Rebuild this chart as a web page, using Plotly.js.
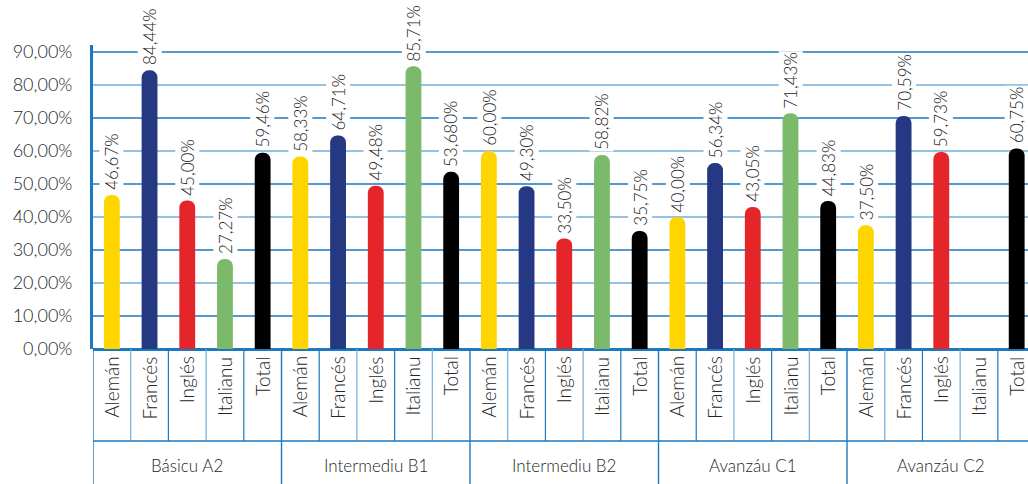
<!DOCTYPE html>
<html>
<head>
<meta charset="utf-8">
<script src="https://cdn.plot.ly/plotly-3.0.1.min.js"></script>
<style>
html,body{margin:0;padding:0;background:#fff;}
#chart{width:1028px;height:484px;}
</style>
</head>
<body>
<div id="chart"></div>
<script>
// ---- data ----
const groups = ["Básicu A2", "Intermediu B1", "Intermediu B2", "Avanzáu C1", "Avanzáu C2"];
const languages = ["Alemán", "Francés", "Inglés", "Italianu", "Total"];
const aleman   = [46.67, 58.33, 60.00, 40.00, 37.50];
const frances  = [84.44, 64.71, 49.30, 56.34, 70.59];
const ingles   = [45.00, 49.48, 33.50, 43.05, 59.73];
const italianu = [27.27, 85.71, 58.82, 71.43, null];
const total    = [59.46, 53.68, 35.75, 44.83, 60.75];
const alemanLabels   = ["46,67%", "58,33%", "60,00%", "40,00%", "37,50%"];
const francesLabels  = ["84,44%", "64,71%", "49,30%", "56,34%", "70,59%"];
const inglesLabels   = ["45,00%", "49,48%", "33,50%", "43,05%", "59,73%"];
const italianuLabels = ["27,27%", "85,71%", "58,82%", "71,43%", ""];
const totalLabels    = ["59,46%", "53,680%", "35,75%", "44,83%", "60,75%"];
const yTicks = [0, 10, 20, 30, 40, 50, 60, 70, 80, 90];
const yTickText = ["0,00%", "10,00%", "20,00%", "30,00%", "40,00%", "50,00%", "60,00%", "70,00%", "80,00%", "90,00%"];

// ---- styles ----
const colors = ["#FFD500", "#253882", "#E4262A", "#7CBA6B", "#000000"];
const series = [aleman, frances, ingles, italianu, total];
const seriesLabels = [alemanLabels, francesLabels, inglesLabels, italianuLabels, totalLabels];
const blue = "#1B79C2";
const lightBlue = "#6FAEDB";
const font = "Lato, 'Open Sans', sans-serif";
const textColor = "#262626";
const nL = languages.length;

const traces = [];
const annotations = [];
const shapes = [];

series.forEach((vals, li) => {
  const xs = groups.map((g, gi) => gi * nL + li);
  traces.push({
    type: "bar",
    x: xs,
    y: vals,
    width: 0.42,
    marker: {color: colors[li], cornerradius: "50%", line: {width: 0}},
    hoverinfo: "skip",
    showlegend: false
  });
  vals.forEach((v, gi) => {
    if (v === null || v === undefined) return;
    annotations.push({
      x: gi * nL + li, y: v, xref: "x", yref: "y",
      text: seriesLabels[li][gi], showarrow: false,
      textangle: -90, xanchor: "center", yanchor: "bottom",
      yshift: 3, bgcolor: "#ffffff", borderpad: 1,
      font: {family: font, size: 17, color: textColor, weight: 300}
    });
  });
});

// category labels (inner row) and group labels
const innerBottom = -0.3026;
groups.forEach((g, gi) => {
  languages.forEach((l, li) => {
    annotations.push({
      x: gi * nL + li, y: -0.018, xref: "x", yref: "paper",
      text: l, showarrow: false, textangle: -90,
      xanchor: "center", yanchor: "top",
      font: {family: font, size: 19, color: textColor, weight: 300}
    });
  });
  annotations.push({
    x: gi * nL + (nL - 1) / 2, y: -0.382, xref: "x", yref: "paper",
    text: g, showarrow: false, xanchor: "center", yanchor: "middle",
    font: {family: font, size: 17, color: textColor, weight: 300}
  });
});

// table dividers
const nCats = groups.length * nL;
for (let k = 0; k <= nCats; k++) {
  const isGroup = k % nL === 0;
  shapes.push({
    type: "line", xref: "x", yref: "paper",
    x0: k - 0.5, x1: k - 0.5, y0: 0, y1: isGroup ? -0.47 : innerBottom,
    line: {color: isGroup ? blue : (k % 2 ? lightBlue : blue), width: isGroup ? 1.4 : 1.2},
    layer: "above"
  });
}
shapes.push({
  type: "line", xref: "paper", yref: "paper",
  x0: 0, x1: 1.02, y0: innerBottom, y1: innerBottom,
  line: {color: blue, width: 1.4}
});
// gridlines, alternating tones
yTicks.forEach((t, i) => {
  if (t === 0) return;
  shapes.push({
    type: "line", xref: "paper", yref: "y",
    x0: 0, x1: 1, y0: t, y1: t,
    line: {color: i % 2 ? blue : lightBlue, width: 1.3},
    layer: "below"
  });
});

const layout = {
  width: 1028, height: 484,
  margin: {l: 93, r: 0, t: 45, b: 135},
  paper_bgcolor: "#ffffff", plot_bgcolor: "#ffffff",
  barmode: "overlay",
  showlegend: false,
  xaxis: {
    range: [-0.5, 24.30], showticklabels: false, showgrid: false,
    zeroline: false, showline: false, ticks: "", fixedrange: true
  },
  yaxis: {
    range: [0, 92.12], tickmode: "array", tickvals: yTicks, ticktext: yTickText,
    showgrid: false, zeroline: true, zerolinecolor: blue, zerolinewidth: 3,
    showline: true, linecolor: blue, linewidth: 3,
    ticks: "", ticklabelstandoff: 14,
    tickfont: {family: font, size: 18, color: textColor, weight: 300}, fixedrange: true
  },
  annotations: annotations,
  shapes: shapes
};

Plotly.newPlot("chart", traces, layout, {displayModeBar: false, staticPlot: true});
</script>
</body>
</html>
